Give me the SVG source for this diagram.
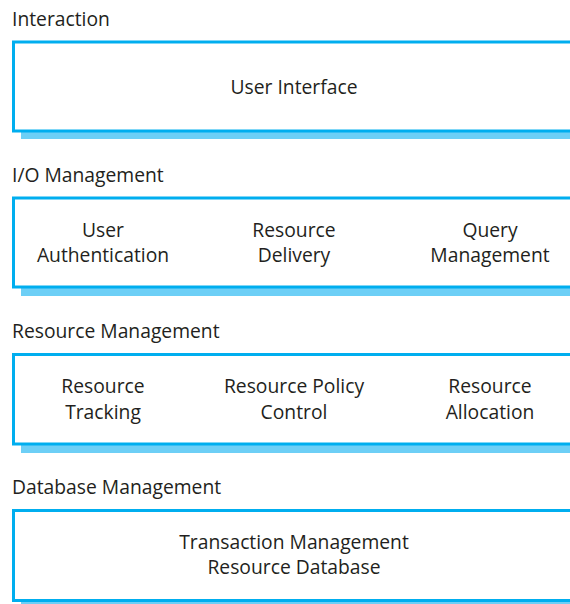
<svg xmlns="http://www.w3.org/2000/svg" width="570" height="604" viewBox="0 0 570 604">
<style>
text{font-family:"Open Sans","Noto Sans","Liberation Sans",sans-serif;font-size:19.3px;fill:#231f20}
.c{text-anchor:middle}
.box{fill:#fff;stroke:#00aeef;stroke-width:3}
.sh{fill:#6dcff6}
</style>
<g id="connectors"></g>
<g id="layer-interaction">
<text x="12" y="26">Interaction</text>
<rect class="sh" x="21" y="132" width="560" height="7"/>
<rect class="box" x="13.5" y="42" width="570" height="89"/>
<text class="c" x="294" y="94">User Interface</text>
</g>
<g id="layer-io">
<text x="12" y="182">I/O Management</text>
<rect class="sh" x="21" y="288" width="560" height="8"/>
<rect class="box" x="13.5" y="198" width="570" height="89"/>
<text class="c" x="103" y="237">User</text>
<text class="c" x="103" y="262">Authentication</text>
<text class="c" x="294" y="237">Resource</text>
<text class="c" x="294" y="262">Delivery</text>
<text class="c" x="490" y="237">Query</text>
<text class="c" x="490" y="262">Management</text>
</g>
<g id="layer-resource">
<text x="12" y="338">Resource Management</text>
<rect class="sh" x="21" y="445" width="560" height="8"/>
<rect class="box" x="13.5" y="354.5" width="570" height="89.5"/>
<text class="c" x="103" y="393">Resource</text>
<text class="c" x="103" y="419">Tracking</text>
<text class="c" x="294" y="393">Resource Policy</text>
<text class="c" x="294" y="419">Control</text>
<text class="c" x="490" y="393">Resource</text>
<text class="c" x="490" y="419">Allocation</text>
</g>
<g id="layer-database">
<text x="12" y="494">Database Management</text>
<rect class="sh" x="21" y="601" width="560" height="3"/>
<rect class="box" x="13.5" y="510.5" width="570" height="90"/>
<text class="c" x="294" y="549">Transaction Management</text>
<text class="c" x="294" y="574">Resource Database</text>
</g>
</svg>
